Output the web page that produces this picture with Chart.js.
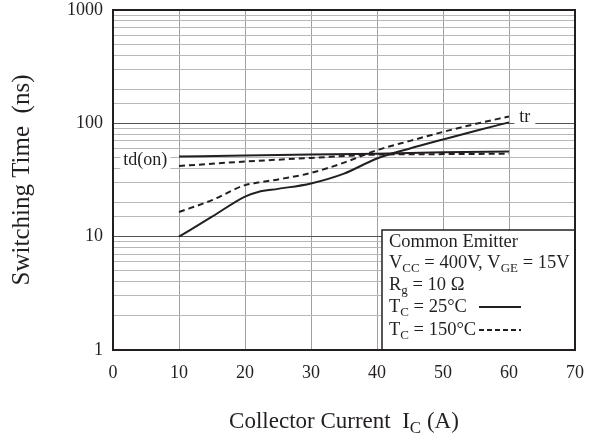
<!DOCTYPE html>
<html>
<head>
<meta charset="utf-8">
<script src="https://cdn.jsdelivr.net/npm/chart.js@4/dist/chart.umd.min.js"></script>
<style>
  html, body { margin: 0; background: #fff; }
  #wrap { width: 593px; height: 441px; }
</style>
</head>
<body>
<div id="wrap"><canvas id="chart"></canvas></div>
<script>
// Collector current (A) and switching times (ns)
const trCurrent = [10, 15, 20, 22, 25, 30, 35, 40, 45, 50, 55, 60];
const trCold = [10, 15, 22.6, 24.8, 26.4, 29.5, 36, 49, 60, 72, 86, 102];   // Tc = 25C
const trHot = [16.5, 21, 28.5, 30, 32, 36.5, 45, 58, 70, 84, 99, 115];      // Tc = 150C
const tdCurrent = [10, 20, 30, 40, 50, 60];
const tdCold = [51, 52, 53, 54, 55.5, 56.5];
const tdHot = [42, 46, 49.5, 53, 53.5, 54];
const yLabels = [1, 10, 100, 1000];

const INK = '#231f20';
const SERIF = '"Liberation Serif", "Times New Roman", serif';

function pts(xs, ys) {
    return xs.map((x, i) => ({ x: x, y: ys[i] }));
}

function line(data, dashed) {
    return {
        data: data,
        borderColor: INK,
        borderWidth: 2,
        borderDash: dashed ? [6, 4] : [],
        pointRadius: 0,
        fill: false,
        cubicInterpolationMode: 'monotone'
    };
}

// draw text with subscripts, returns end x
function drawRich(ctx, parts, x, y, size) {
    parts.forEach(p => {
        const s = p.sub ? Math.round(size * 0.72) : size;
        ctx.font = s + 'px ' + SERIF;
        ctx.fillText(p.t, x, y + (p.sub ? size * 0.28 : 0));
        x += ctx.measureText(p.t).width;
    });
    return x;
}

function richWidth(ctx, parts, size) {
    let total = 0;
    parts.forEach(p => {
        ctx.font = (p.sub ? Math.round(size * 0.72) : size) + 'px ' + SERIF;
        total += ctx.measureText(p.t).width;
    });
    return total;
}

const annotations = {
    id: 'annotations',
    afterDatasetsDraw(chart) {
        const ctx = chart.ctx;
        const area = chart.chartArea;
        const xs = chart.scales.x, ys = chart.scales.y;
        ctx.save();
        ctx.fillStyle = INK;
        ctx.textBaseline = 'middle';

        // curve labels
        let lx = xs.getPixelForValue(4.9), ly = ys.getPixelForValue(47);
        ctx.font = '18px ' + SERIF;
        let w = ctx.measureText('td(on)').width;
        ctx.fillStyle = '#fff';
        ctx.fillRect(lx - w / 2 - 3, ly - 11, w + 6, 22);
        ctx.fillStyle = INK;
        ctx.textAlign = 'center';
        ctx.fillText('td(on)', lx, ly);

        lx = xs.getPixelForValue(62.4); ly = ys.getPixelForValue(113);
        w = ctx.measureText('tr').width;
        ctx.fillStyle = '#fff';
        ctx.fillRect(lx - w / 2 - 5, ly - 10, w + 10, 20);
        ctx.fillStyle = INK;
        ctx.fillText('tr', lx, ly);

        // condition box
        const bw = 193, bh = 120;
        const bx = area.right - bw, by = area.bottom - bh;
        ctx.fillStyle = '#fff';
        ctx.fillRect(bx, by, bw, bh);
        ctx.strokeStyle = INK;
        ctx.lineWidth = 1.5;
        ctx.strokeRect(bx, by, bw, bh);
        ctx.fillStyle = INK;
        ctx.textAlign = 'left';
        const tx = bx + 7;
        drawRich(ctx, [{ t: 'Common Emitter' }], tx, by + 12, 18.5);
        drawRich(ctx, [{ t: 'V' }, { t: 'CC', sub: true }, { t: ' = 400V, V' }, { t: 'GE', sub: true }, { t: ' = 15V' }], tx, by + 33, 18.5);
        drawRich(ctx, [{ t: 'R' }, { t: 'g', sub: true }, { t: ' = 10 Ω' }], tx, by + 55, 18.5);
        drawRich(ctx, [{ t: 'T' }, { t: 'C', sub: true }, { t: ' = 25°C' }], tx, by + 77, 18.5);
        drawRich(ctx, [{ t: 'T' }, { t: 'C', sub: true }, { t: ' = 150°C' }], tx, by + 100, 18.5);
        ctx.lineWidth = 2;
        ctx.beginPath();
        ctx.moveTo(bx + 97, by + 77);
        ctx.lineTo(bx + 139, by + 77);
        ctx.stroke();
        ctx.setLineDash([5, 3]);
        ctx.beginPath();
        ctx.moveTo(bx + 97, by + 100);
        ctx.lineTo(bx + 139, by + 100);
        ctx.stroke();
        ctx.setLineDash([]);

        // x axis title with subscript
        const parts = [{ t: 'Collector Current  I' }, { t: 'C', sub: true }, { t: ' (A)' }];
        const total = richWidth(ctx, parts, 23);
        drawRich(ctx, parts, (area.left + area.right) / 2 - total / 2, 422, 23);

        // plot frame
        ctx.lineWidth = 2;
        ctx.strokeStyle = INK;
        ctx.strokeRect(area.left, area.top, area.right - area.left, area.bottom - area.top);
        ctx.restore();
    }
};

new Chart(document.getElementById('chart'), {
    type: 'line',
    data: {
        datasets: [
            line(pts(tdCurrent, tdCold), false),
            line(pts(tdCurrent, tdHot), true),
            line(pts(trCurrent, trCold), false),
            line(pts(trCurrent, trHot), true)
        ]
    },
    options: {
        responsive: true,
        maintainAspectRatio: false,
        animation: false,
        layout: { padding: { top: 10, right: 18, left: 0, bottom: 0 } },
        scales: {
            x: {
                type: 'linear',
                min: 0,
                max: 70,
                afterFit: s => { s.height = 91; s.paddingLeft = 0; s.paddingRight = 0; },
                ticks: { stepSize: 10, padding: 12, color: INK, font: { family: SERIF, size: 18 } },
                grid: { color: '#a0a0a0', lineWidth: 1, drawTicks: false },
                border: { display: false }
            },
            y: {
                type: 'logarithmic',
                min: 1,
                max: 1000,
                afterFit: s => { s.width = 113; s.paddingTop = 0; s.paddingBottom = 0; },
                ticks: {
                    autoSkip: false,
                    padding: 10,
                    color: INK,
                    font: { family: SERIF, size: 18 },
                    callback: v => yLabels.includes(v) ? String(v) : ''
                },
                grid: {
                    drawTicks: false,
                    lineWidth: 1,
                    color: c => yLabels.includes(c.tick.value) ? '#555' : '#b8b8b8'
                },
                border: { display: false },
                title: {
                    display: true,
                    text: 'Switching Time  (ns)',
                    color: INK,
                    font: { family: SERIF, size: 25 },
                    padding: { top: 7, bottom: 0 }
                }
            }
        },
        plugins: {
            legend: { display: false },
            tooltip: { enabled: false }
        }
    },
    plugins: [annotations]
});
</script>
</body>
</html>
